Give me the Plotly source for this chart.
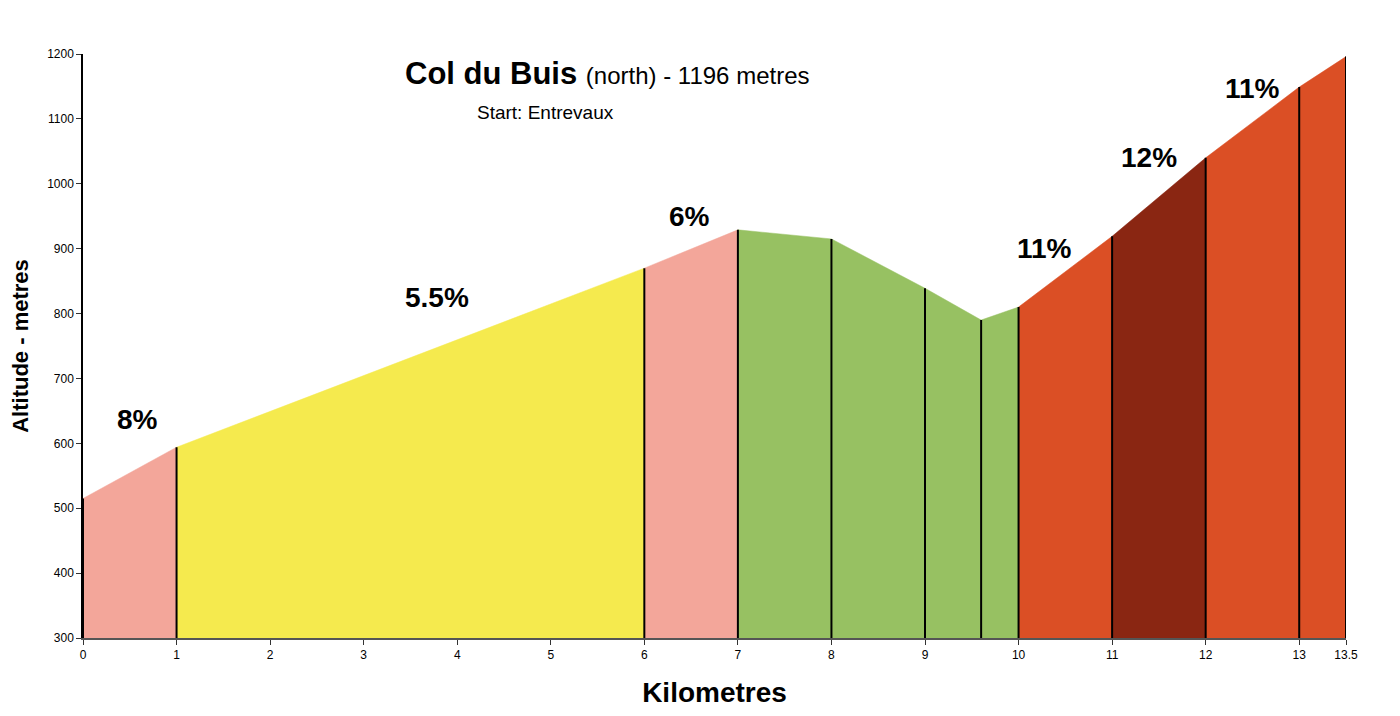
import plotly.graph_objects as go

# profile points (km, altitude m)
km = [0, 1, 6, 7, 8, 9, 9.6, 10, 11, 12, 13, 13.5]
alt = [515, 594, 870, 929, 915, 839, 790, 810, 919, 1040, 1149, 1196]

# coloured sections: (start km, end km, colour)
sections = [
    (0, 1, "#F3A69A"),
    (1, 6, "#F5EA4E"),
    (6, 7, "#F3A69A"),
    (7, 10, "#97C162"),
    (10, 11, "#DB4F25"),
    (11, 12, "#8A2612"),
    (12, 13.5, "#DB4F25"),
]

grade_labels = ["8%", "5.5%", "6%", "11%", "12%", "11%"]
grade_x = [0.58, 3.78, 6.48, 10.28, 11.39, 12.5]
grade_y = [637, 825, 950, 901, 1041, 1147]

x_ticks = [0, 1, 2, 3, 4, 5, 6, 7, 8, 9, 10, 11, 12, 13, 13.5]
y_ticks = [300, 400, 500, 600, 700, 800, 900, 1000, 1100, 1200]

fig = go.Figure()

for start, end, colour in sections:
    xs = [k for k in km if start <= k <= end]
    ys = [a for k, a in zip(km, alt) if start <= k <= end]
    fig.add_trace(go.Scatter(x=xs, y=ys, mode="lines", fill="tozeroy",
                             fillcolor=colour, line=dict(color=colour, width=0.5),
                             hoverinfo="skip", showlegend=False))

# vertical markers at each point
vx, vy = [], []
for k, a in zip(km, alt):
    vx += [k, k, None]
    vy += [300, a, None]
fig.add_trace(go.Scatter(x=vx, y=vy, mode="lines", line=dict(color="black", width=2),
                         hoverinfo="skip", showlegend=False))

for t, x, y in zip(grade_labels, grade_x, grade_y):
    fig.add_annotation(x=x, y=y, text="<b>" + t + "</b>", showarrow=False,
                       font=dict(size=28, color="black"))

fig.add_annotation(xref="paper", yref="paper", x=0.415, y=0.967, yanchor="middle",
                   text="<b>Col du Buis</b> <span style='font-size:24px'>(north) - 1196 metres</span>",
                   showarrow=False, font=dict(size=31, color="black"))
fig.add_annotation(xref="paper", yref="paper", x=0.366, y=0.899, yanchor="middle",
                   text="Start: Entrevaux", showarrow=False,
                   font=dict(size=19, color="black"))

fig.update_layout(
    width=1400, height=716,
    margin=dict(l=75, r=62, t=46, b=86),
    paper_bgcolor="white", plot_bgcolor="white",
    font=dict(family="Liberation Sans, Arial, sans-serif", color="black"),
    xaxis=dict(range=[0, 13.5], tickvals=x_ticks, ticktext=[str(v) for v in x_ticks],
               showgrid=False, zeroline=False, showline=True, linecolor="#555",
               linewidth=1.5, ticks="outside", ticklen=5, tickcolor="#333",
               tickfont=dict(size=12), automargin=False,
               title=dict(text="<b>Kilometres</b>", font=dict(size=28), standoff=21)),
    yaxis=dict(range=[300, 1200], tickvals=y_ticks, showgrid=False, zeroline=False,
               showline=True, linecolor="black", linewidth=1.5, ticks="outside",
               ticklen=5, tickcolor="#333", tickfont=dict(size=12), automargin=False,
               title=dict(text="<b>Altitude - metres</b>", font=dict(size=22), standoff=12)),
)

fig.write_html("out.html")
